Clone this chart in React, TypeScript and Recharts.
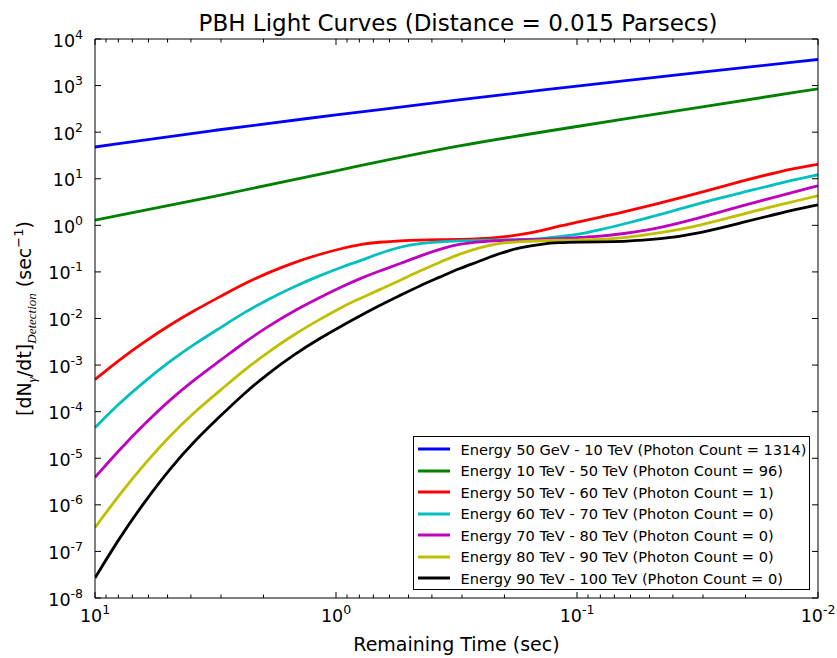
import { LineChart, Line, XAxis, YAxis, Legend } from "recharts";

const FONT = "DejaVu Sans, Verdana, sans-serif";
const MATH = "Liberation Serif, DejaVu Serif, serif";

// remaining time (sec) sample points
const LINE_TIMES = [10, 3.16, 1, 0.316, 0.1, 0.0316, 0.01];
const CURVE_TIMES = [
  10, 7.9, 6.2, 4.9, 3.85, 3.0, 2.4, 1.9, 1.5, 1.17, 0.92, 0.8, 0.66, 0.54, 0.45,
  0.37, 0.31, 0.25, 0.21, 0.17, 0.14, 0.12, 0.097, 0.08, 0.066, 0.045, 0.031, 0.021,
  0.0144, 0.01,
];

// dN/dt per band
const BAND_50GEV_10TEV = [48, 112, 234, 490, 980, 1900, 3630];
const BAND_10_50TEV = [1.29, 4.2, 14.8, 52, 132, 340, 850];
const BAND_50_60TEV = [
  4.9e-4, 1.32e-3, 3.24e-3, 7.24e-3, 0.0151, 0.0302, 0.0562, 0.0977, 0.158, 0.24,
  0.331, 0.389, 0.437, 0.468, 0.484, 0.49, 0.495, 0.513, 0.55, 0.631, 0.767, 0.955,
  1.2, 1.51, 1.86, 3.02, 5.01, 8.71, 14.5, 20.4,
];
const BAND_60_70TEV = [
  4.57e-5, 1.55e-4, 4.57e-4, 1.2e-3, 2.88e-3, 6.46e-3, 0.0135, 0.0263, 0.0479,
  0.0832, 0.135, 0.17, 0.251, 0.347, 0.412, 0.447, 0.462, 0.479, 0.484, 0.495, 0.513,
  0.569, 0.646, 0.805, 1.02, 1.7, 3.02, 4.9, 8.13, 12.2,
];
const BAND_70_80TEV = [
  3.89e-6, 1.55e-5, 5.62e-5, 1.78e-4, 5.01e-4, 1.29e-3, 3.09e-3, 6.92e-3, 0.0145,
  0.0282, 0.0513, 0.0708, 0.105, 0.151, 0.219, 0.309, 0.398, 0.447, 0.473, 0.49, 0.495,
  0.513, 0.55, 0.582, 0.646, 0.877, 1.44, 2.57, 4.32, 7.08,
];
const BAND_80_90TEV = [
  3.24e-7, 1.7e-6, 7.76e-6, 3.02e-5, 1.0e-4, 2.95e-4, 7.94e-4, 1.95e-3, 4.47e-3,
  9.55e-3, 0.0191, 0.0263, 0.0417, 0.0661, 0.105, 0.162, 0.24, 0.339, 0.417, 0.452,
  0.468, 0.479, 0.484, 0.495, 0.525, 0.684, 0.977, 1.7, 2.75, 4.32,
];
const BAND_90_100TEV = [
  2.69e-8, 2.0e-7, 1.2e-6, 5.89e-6, 2.4e-5, 8.32e-5, 2.51e-4, 6.76e-4, 1.66e-3,
  3.72e-3, 7.59e-3, 0.0112, 0.0191, 0.0316, 0.0501, 0.0776, 0.117, 0.174, 0.251, 0.339,
  0.398, 0.427, 0.437, 0.442, 0.447, 0.501, 0.676, 1.12, 1.84, 2.75,
];

const SERIES_NAMES = [
  "Energy 50 GeV - 10 TeV (Photon Count = 1314)",
  "Energy 10 TeV - 50 TeV (Photon Count = 96)",
  "Energy 50 TeV - 60 TeV (Photon Count = 1)",
  "Energy 60 TeV - 70 TeV (Photon Count = 0)",
  "Energy 70 TeV - 80 TeV (Photon Count = 0)",
  "Energy 80 TeV - 90 TeV (Photon Count = 0)",
  "Energy 90 TeV - 100 TeV (Photon Count = 0)",
];
const COLORS = ["#0000ff", "#008000", "#ff0000", "#00bfbf", "#bf00bf", "#bfbf00", "#000000"];

const X_TICKS = [
  0.01, 0.02, 0.03, 0.04, 0.05, 0.06, 0.07, 0.08, 0.09,
  0.1, 0.2, 0.3, 0.4, 0.5, 0.6, 0.7, 0.8, 0.9,
  1, 2, 3, 4, 5, 6, 7, 8, 9, 10,
];
const Y_TICKS = [1e-8, 1e-7, 1e-6, 1e-5, 1e-4, 1e-3, 1e-2, 1e-1, 1, 10, 100, 1e3, 1e4];

const toRows = (times: number[], vals: number[]) =>
  times.map((t, i) => ({ t, v: vals[i] }));

const seriesData = [
  toRows(LINE_TIMES, BAND_50GEV_10TEV),
  toRows(LINE_TIMES, BAND_10_50TEV),
  toRows(CURVE_TIMES, BAND_50_60TEV),
  toRows(CURVE_TIMES, BAND_60_70TEV),
  toRows(CURVE_TIMES, BAND_70_80TEV),
  toRows(CURVE_TIMES, BAND_80_90TEV),
  toRows(CURVE_TIMES, BAND_90_100TEV),
];

function isDecade(v: number) {
  const e = Math.log10(v);
  return Math.abs(e - Math.round(e)) < 1e-6;
}

function XTick(props: any) {
  const { x, y, payload, side } = props;
  const v = payload.value;
  const major = isDecade(v);
  const len = major ? 6 : 3.5;
  const dir = side === "bottom" ? -1 : 1;
  return (
    <g>
      <line x1={x} x2={x} y1={y} y2={y + dir * len} stroke="#000" strokeWidth={1} />
      {major && side === "bottom" && (
        <text x={x} y={y + 24} textAnchor="middle" fontSize={17.5} fontFamily={FONT} fill="#000">
          10
          <tspan dy={-8} fontSize={12.5}>{Math.round(Math.log10(v))}</tspan>
        </text>
      )}
    </g>
  );
}

function YTick(props: any) {
  const { x, y, payload, side } = props;
  const dir = side === "left" ? 1 : -1;
  return (
    <g>
      <line x1={x} x2={x + dir * 6} y1={y} y2={y} stroke="#000" strokeWidth={1} />
      {side === "left" && (
        <text x={x - 12} y={y + 7.5} textAnchor="end" fontSize={17.5} fontFamily={FONT} fill="#000">
          10
          <tspan dy={-8} fontSize={12.5}>{Math.round(Math.log10(payload.value))}</tspan>
        </text>
      )}
    </g>
  );
}

function XLabel(props: any) {
  const vb = props.viewBox || { x: 95, y: 598, width: 723 };
  return (
    <text x={vb.x + vb.width / 2} y={vb.y + 53} textAnchor="middle" fontSize={19} fontFamily={FONT} fill="#000">
      Remaining Time (sec)
    </text>
  );
}

function YLabel(props: any) {
  const vb = props.viewBox || { x: 35, y: 39, height: 559 };
  const cx = 31;
  const cy = vb.y + vb.height / 2;
  return (
    <text
      x={cx}
      y={cy}
      transform={`rotate(-90, ${cx}, ${cy})`}
      textAnchor="middle"
      fontSize={19}
      fontFamily={FONT}
      fill="#000"
    >
      [dN
      <tspan dy={5} fontSize={13} fontFamily={MATH} fontStyle="italic">γ</tspan>
      <tspan dy={-5}>/dt]</tspan>
      <tspan dy={5} fontSize={13} fontFamily={MATH} fontStyle="italic">Detection</tspan>
      <tspan dy={-5}>{"  (sec"}</tspan>
      <tspan dy={-8} fontSize={13}>−1</tspan>
      <tspan dy={8}>)</tspan>
    </text>
  );
}

function LegendBox() {
  return (
    <div
      style={{
        border: "1px solid #000",
        background: "#fff",
        width: 397,
        boxSizing: "border-box",
        padding: "1.5px 0 0 0",
        fontFamily: FONT,
        fontSize: 14.6,
        color: "#000",
      }}
    >
      {SERIES_NAMES.map((name, i) => (
        <div key={name} style={{ display: "flex", alignItems: "center", height: 21.5, whiteSpace: "nowrap" }}>
          <svg width={46.5} height={10} style={{ flex: "none" }}>
            <line x1={4} x2={36} y1={5} y2={5} stroke={COLORS[i]} strokeWidth={3} />
          </svg>
          <span>{name}</span>
        </div>
      ))}
    </div>
  );
}

export default function App() {
  return (
    <div style={{ position: "absolute", left: 0, top: 0, width: 837, height: 658, background: "#fff" }}>
      <div
        style={{
          position: "absolute",
          left: 58,
          top: 12,
          width: 800,
          textAlign: "center",
          fontFamily: FONT,
          fontSize: 23,
          lineHeight: "23px",
          color: "#000",
        }}
      >
        PBH Light Curves (Distance = 0.015 Parsecs)
      </div>
      <LineChart width={837} height={658} margin={{ top: 38, right: 18, bottom: 0, left: 35 }}>
        <XAxis
          xAxisId="b"
          dataKey="t"
          type="number"
          scale="log"
          domain={[0.01, 10]}
          allowDataOverflow
          reversed
          ticks={X_TICKS}
          interval={0}
          tickSize={0}
          tickMargin={0}
          tickLine={false}
          tick={(p: any) => <XTick {...p} side="bottom" />}
          axisLine={{ stroke: "#000", strokeWidth: 1 }}
          height={60}
          label={XLabel}
        />
        <XAxis
          xAxisId="t"
          orientation="top"
          dataKey="t"
          type="number"
          scale="log"
          domain={[0.01, 10]}
          allowDataOverflow
          reversed
          ticks={X_TICKS}
          interval={0}
          tickSize={0}
          tickMargin={0}
          tickLine={false}
          tick={(p: any) => <XTick {...p} side="top" />}
          axisLine={{ stroke: "#000", strokeWidth: 1 }}
          height={1}
        />
        <YAxis
          yAxisId="l"
          type="number"
          scale="log"
          domain={[1e-8, 1e4]}
          allowDataOverflow
          ticks={Y_TICKS}
          interval={0}
          tickSize={0}
          tickMargin={0}
          tickLine={false}
          tick={(p: any) => <YTick {...p} side="left" />}
          axisLine={{ stroke: "#000", strokeWidth: 1 }}
          width={60}
          label={YLabel}
        />
        <YAxis
          yAxisId="r"
          orientation="right"
          type="number"
          scale="log"
          domain={[1e-8, 1e4]}
          allowDataOverflow
          ticks={Y_TICKS}
          interval={0}
          tickSize={0}
          tickMargin={0}
          tickLine={false}
          tick={(p: any) => <YTick {...p} side="right" />}
          axisLine={{ stroke: "#000", strokeWidth: 1 }}
          width={1}
        />
        {seriesData.map((rows, i) => (
          <Line
            key={SERIES_NAMES[i]}
            xAxisId="b"
            yAxisId="l"
            data={rows}
            dataKey="v"
            name={SERIES_NAMES[i]}
            type="basis"
            stroke={COLORS[i]}
            strokeWidth={2.8}
            dot={false}
            isAnimationActive={false}
          />
        ))}
        <Legend
          layout="vertical"
          align="center"
          verticalAlign="middle"
          content={() => <LegendBox />}
          wrapperStyle={{ left: 413, top: 436, width: "auto", height: "auto" }}
        />
      </LineChart>
    </div>
  );
}
